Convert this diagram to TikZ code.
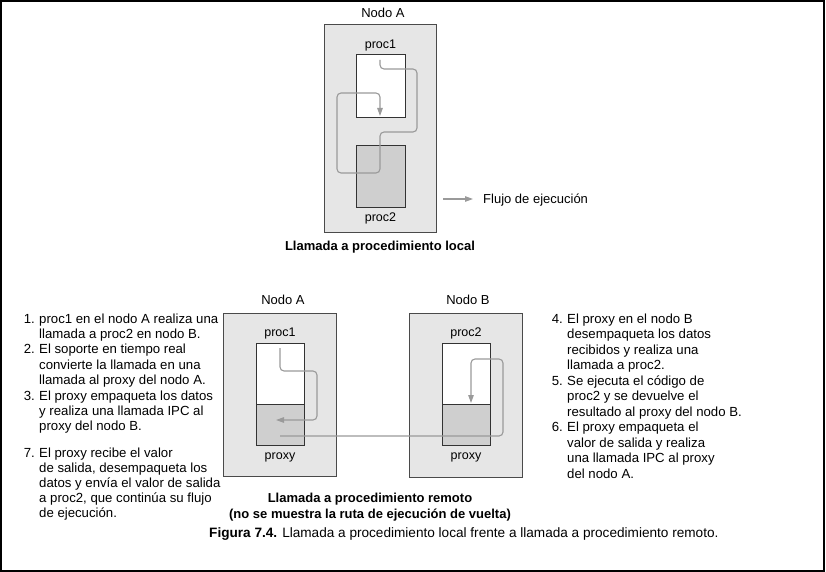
\documentclass[tikz,border=0pt]{standalone}
\usepackage{fontspec}
\setmainfont{Liberation Sans}
\usetikzlibrary{arrows.meta}
\definecolor{boxfill}{HTML}{E6E6E6}
\definecolor{procfill}{HTML}{CFCFCF}
\definecolor{flow}{HTML}{9A9A9A}
\definecolor{edge}{HTML}{4A4A4A}
\begin{document}
\begin{tikzpicture}[x=1pt,y=-1pt,
  outerbox/.style={draw=edge, fill=boxfill, line width=0.8pt, inner sep=0pt},
  procbox/.style={draw=black!80, fill=white, line width=0.8pt, inner sep=0pt},
  proxybox/.style={draw=black!80, fill=procfill, line width=0.8pt, inner sep=0pt},
  flowline/.style={draw=flow, line width=1.1pt, rounded corners=4pt},
  flowarrow/.style={flowline, -{Triangle[length=8pt,width=5.5pt]}},
  lbl/.style={font=\fontsize{12.5}{14}\selectfont, inner sep=0pt, anchor=base},
  ttl/.style={font=\fontsize{13}{15}\selectfont\bfseries, inner sep=0pt, anchor=base},
  txt/.style={font=\fontsize{13.2}{15}\selectfont, inner sep=0pt, anchor=base west},
  num/.style={font=\fontsize{13.2}{15}\selectfont, inner sep=0pt, anchor=base east}
]
\useasboundingbox (0,0) rectangle (826,572);
\draw[line width=1.6pt] (0.8,0.8) rectangle (824.2,570.8);

% ---------- local call ----------
\node[lbl, font=\fontsize{13}{15}\selectfont] (tnA) at (383,17.5) {Nodo A};
\node[outerbox, minimum width=112pt, minimum height=208pt] (A) at (380,128) {};
\node[lbl] (tp1) at (380.5,48.5) {proc1};
\node[procbox, minimum width=49pt, minimum height=63pt] (p1) at (380.5,85.5) {};
\node[proxybox, minimum width=49pt, minimum height=62pt] (p2) at (380.5,176) {};
\node[lbl] (tp2) at (380.5,221.5) {proc2};
\coordinate (fs) at (380,60);
\coordinate (fe) at (380,116);
\draw[flowarrow] (fs) -- (380,69) -- (417,69) -- (417,132) -- (380,132) -- (380,173)
   -- (337,173) -- (337,93) -- (380,93) -- (fe);
\coordinate (ls) at (443,199);
\coordinate (le) at (473,199);
\draw[flowarrow] (ls) -- (le);
\node[lbl, anchor=base west, font=\fontsize{13}{15}\selectfont] (leg) at (483,203.5) {Flujo de ejecución};
\node[ttl] (t1) at (380,250.5) {Llamada a procedimiento local};

% ---------- remote call ----------
\node[lbl, font=\fontsize{13}{15}\selectfont] (bnA) at (283,304.5) {Nodo A};
\node[lbl, font=\fontsize{13}{15}\selectfont] (bnB) at (468,304.5) {Nodo B};
\node[outerbox, minimum width=113pt, minimum height=163pt] (BA) at (279.5,394.5) {};
\node[outerbox, minimum width=113pt, minimum height=164pt] (BB) at (465.5,395) {};
\node[lbl] (bp1) at (280,336.5) {proc1};
\node[lbl] (bp2) at (466,336.5) {proc2};
\node[procbox, minimum width=48pt, minimum height=61pt] (a1) at (280,373.5) {};
\node[proxybox, minimum width=48pt, minimum height=41pt] (a2) at (280,424.5) {};
\node[procbox, minimum width=48pt, minimum height=61pt] (b1) at (466,373.5) {};
\node[proxybox, minimum width=48pt, minimum height=41pt] (b2) at (466,424.5) {};
\node[lbl] (bpa) at (280,459.5) {proxy};
\node[lbl] (bpb) at (466,459.5) {proxy};
\coordinate (r1s) at (280,348);
\coordinate (r1e) at (276,420);
\draw[flowarrow] (r1s) -- (280,371) -- (317,371) -- (317,420) -- (r1e);
\coordinate (r2s) at (280,436);
\coordinate (r2e) at (471,403);
\draw[flowarrow] (r2s) -- (503,436) -- (503,359) -- (471,359) -- (r2e);
\node[ttl] (t2) at (370,502) {Llamada a procedimiento remoto};
\node[ttl] (t3) at (370,518) {(no se muestra la ruta de ejecución de vuelta)};

% ---------- left list ----------
\node[num] (n1) at (35,323) {1.};
\node[txt] (l1) at (39,323) {proc1 en el nodo A realiza una};
\node[txt] (l2) at (39,338.4) {llamada a proc2 en nodo B.};
\node[num] (n2) at (35,353.8) {2.};
\node[txt] (l3) at (39,353.8) {El soporte en tiempo real};
\node[txt] (l4) at (39,369.2) {convierte la llamada en una};
\node[txt] (l5) at (39,384.6) {llamada al proxy del nodo A.};
\node[num] (n3) at (35,400) {3.};
\node[txt] (l6) at (39,400) {El proxy empaqueta los datos};
\node[txt] (l7) at (39,415.4) {y realiza una llamada IPC al};
\node[txt] (l8) at (39,430.8) {proxy del nodo B.};
\node[num] (n7) at (35,457) {7.};
\node[txt] (l9) at (39,457) {El proxy recibe el valor};
\node[txt] (l10) at (39,472) {de salida, desempaqueta los};
\node[txt] (l11) at (39,487) {datos y envía el valor de salida};
\node[txt] (l12) at (39,502) {a proc2, que continúa su flujo};
\node[txt] (l13) at (39,517) {de ejecución.};

% ---------- right list ----------
\node[num] (n4) at (563,323) {4.};
\node[txt] (m1) at (567,323) {El proxy en el nodo B};
\node[txt] (m2) at (567,338.5) {desempaqueta los datos};
\node[txt] (m3) at (567,354) {recibidos y realiza una};
\node[txt] (m4) at (567,369.5) {llamada a proc2.};
\node[num] (n5) at (563,385) {5.};
\node[txt] (m5) at (567,385) {Se ejecuta el código de};
\node[txt] (m6) at (567,400.5) {proc2 y se devuelve el};
\node[txt] (m7) at (567,416) {resultado al proxy del nodo B.};
\node[num] (n6) at (563,431.5) {6.};
\node[txt] (m8) at (567,431.5) {El proxy empaqueta el};
\node[txt] (m9) at (567,447) {valor de salida y realiza};
\node[txt] (m10) at (567,462.5) {una llamada IPC al proxy};
\node[txt] (m11) at (567,478) {del nodo A.};

% ---------- caption ----------
\node[txt, font=\fontsize{13.6}{15}\selectfont] (cap) at (209,537.5) {\textbf{Figura 7.4.} Llamada a procedimiento local frente a llamada a procedimiento remoto.};
\end{tikzpicture}
\end{document}
